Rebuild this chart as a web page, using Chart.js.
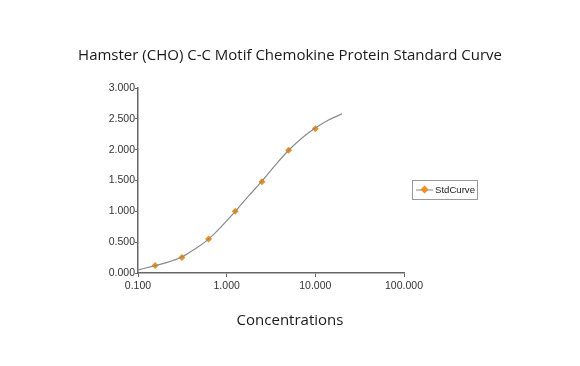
<!DOCTYPE html>
<html>
<head>
<meta charset="utf-8">
<script src="https://cdn.jsdelivr.net/npm/chart.js@4/dist/chart.umd.min.js"></script>
<style>
    html, body { margin: 0; padding: 0; background: #fff; }
    #wrap { width: 580px; height: 366px; }
</style>
</head>
<body>
<div id="wrap"><canvas id="stdChart" width="580" height="366"></canvas></div>
<script>
// Standard points (concentration, OD)
const concentrations = [0.156, 0.3125, 0.625, 1.25, 2.5, 5, 10];
const odValues = [0.12, 0.25, 0.55, 1.0, 1.48, 1.99, 2.34];

// Fitted curve
const curveX = [0.1, 0.156, 0.2, 0.3125, 0.44, 0.625, 0.88, 1.25, 1.77, 2.5, 3.54, 5, 7.07, 10, 14.1, 20];
const curveY = [0.05, 0.12, 0.16, 0.26, 0.39, 0.55, 0.76, 1.0, 1.25, 1.49, 1.75, 1.99, 2.19, 2.35, 2.48, 2.58];

// Axis ticks
const xTickValues = [0.1, 1, 10, 100];
const yTickValues = [0, 0.5, 1, 1.5, 2, 2.5, 3];

const seriesName = 'StdCurve';
const orange = '#F0901E';
const lineGray = '#8a8a8a';
const axisColor = '#666';
const tickFont = { family: 'Liberation Sans, Arial, sans-serif', size: 10.5 };

// Small legend box to the right of the plot
const legendBox = {
    id: 'legendBox',
    afterDraw(chart) {
        const ctx = chart.ctx;
        const x = 412, y = 180, w = 65, h = 19;
        const cy = y + h / 2;
        ctx.save();
        ctx.strokeStyle = '#9a9a9a';
        ctx.lineWidth = 1;
        ctx.strokeRect(x + 0.5, y + 0.5, w, h);
        ctx.strokeStyle = lineGray;
        ctx.beginPath();
        ctx.moveTo(x + 4, cy + 0.5);
        ctx.lineTo(x + 21, cy + 0.5);
        ctx.stroke();
        ctx.fillStyle = orange;
        ctx.beginPath();
        ctx.moveTo(x + 12.5, cy - 4);
        ctx.lineTo(x + 16.5, cy);
        ctx.lineTo(x + 12.5, cy + 4);
        ctx.lineTo(x + 8.5, cy);
        ctx.closePath();
        ctx.fill();
        ctx.fillStyle = '#222';
        ctx.font = '9.6px Liberation Sans, Arial, sans-serif';
        ctx.textBaseline = 'middle';
        ctx.fillText(chart.data.datasets[1].label, x + 23, cy + 1);
        ctx.restore();
    }
};

const ctx = document.getElementById('stdChart').getContext('2d');

new Chart(ctx, {
    type: 'scatter',
    data: {
        datasets: [
            {
                label: 'Curve',
                data: curveX.map((v, i) => ({ x: v, y: curveY[i] })),
                showLine: true,
                borderColor: lineGray,
                borderWidth: 1.2,
                pointRadius: 0,
                cubicInterpolationMode: 'monotone',
                fill: false
            },
            {
                label: seriesName,
                data: concentrations.map((v, i) => ({ x: v, y: odValues[i] })),
                showLine: false,
                pointStyle: 'rectRot',
                pointRadius: 3.5,
                backgroundColor: orange,
                borderColor: orange,
                borderWidth: 0
            }
        ]
    },
    options: {
        responsive: false,
        animation: false,
        layout: { padding: 0 },
        plugins: {
            legend: { display: false },
            tooltip: { enabled: false },
            title: {
                display: true,
                text: 'Hamster (CHO) C-C Motif Chemokine Protein Standard Curve',
                color: '#1a1a1a',
                font: { family: 'Open Sans, sans-serif', size: 15, weight: 'normal', lineHeight: 1.2 },
                padding: { top: 47, bottom: 23 }
            },
            subtitle: {
                display: true,
                position: 'bottom',
                text: 'Concentrations',
                color: '#1a1a1a',
                font: { family: 'Open Sans, sans-serif', size: 15, weight: 'normal', lineHeight: 1.2 },
                padding: { top: 19, bottom: 36 }
            }
        },
        scales: {
            x: {
                type: 'logarithmic',
                min: 0.1,
                max: 100,
                afterBuildTicks: scale => {
                    scale.ticks = xTickValues.map(v => ({ value: v }));
                },
                afterFit: scale => { scale.height = 20; },
                grid: { display: true, drawOnChartArea: false, drawTicks: true, tickLength: 4, color: axisColor },
                border: { display: true, color: axisColor, width: 1.5 },
                ticks: {
                    autoSkip: false,
                    maxRotation: 0,
                    padding: 3,
                    color: '#333',
                    font: tickFont,
                    callback: v => Number(v).toFixed(3)
                }
            },
            y: {
                min: 0,
                max: 3,
                afterBuildTicks: scale => {
                    scale.ticks = yTickValues.map(v => ({ value: v }));
                },
                afterFit: scale => { scale.width = 138; },
                grid: { display: true, drawOnChartArea: false, drawTicks: true, tickLength: 3, color: axisColor },
                border: { display: true, color: axisColor, width: 1.5 },
                ticks: {
                    padding: 0,
                    color: '#333',
                    font: tickFont,
                    callback: v => Number(v).toFixed(3)
                }
            },
            // empty axis that only reserves the space on the right for the legend
            yRight: {
                position: 'right',
                min: 0,
                max: 3,
                afterFit: scale => { scale.width = 176; },
                grid: { display: false },
                border: { display: false },
                ticks: { display: false }
            }
        }
    },
    plugins: [legendBox]
});
</script>
</body>
</html>
